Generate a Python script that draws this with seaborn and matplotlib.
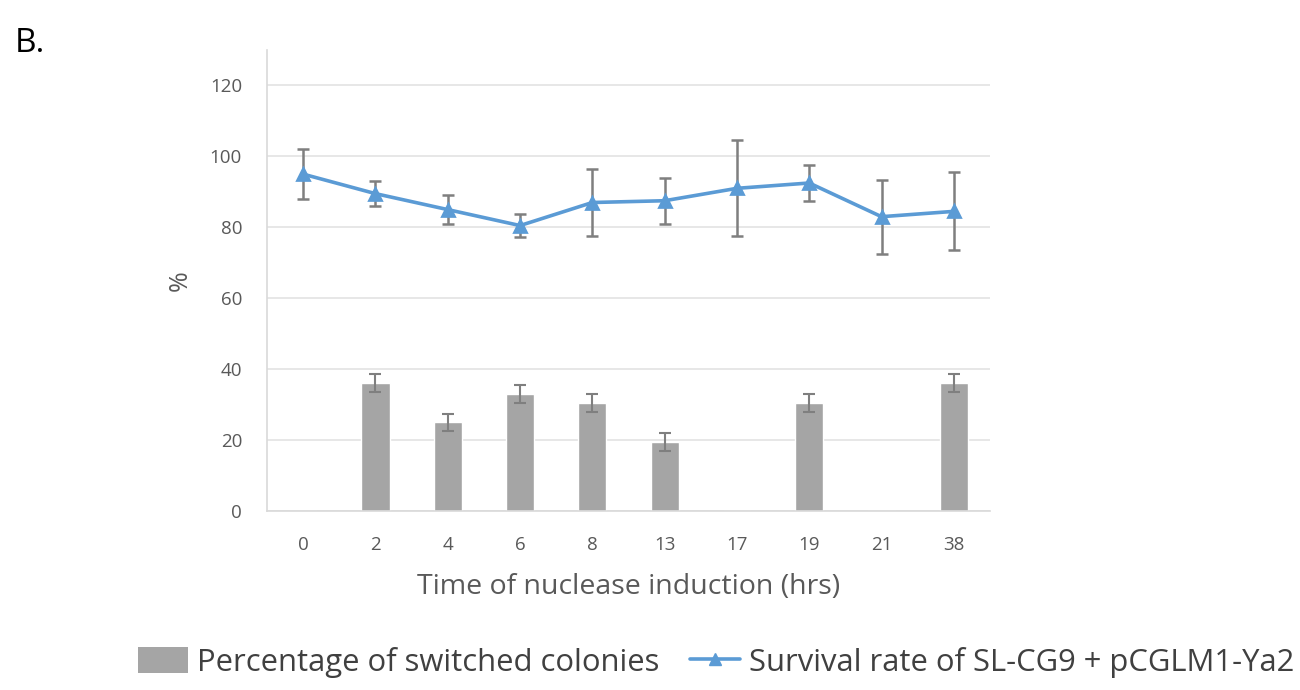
import numpy as np
import pandas as pd
import seaborn as sns
import matplotlib.pyplot as plt
from matplotlib.lines import Line2D
from matplotlib.patches import Patch

hours = ["0", "2", "4", "6", "8", "13", "17", "19", "21", "38"]
switched = [0, 36, 25, 33, 30.5, 19.5, 0, 30.5, 0, 36]
switched_err = [np.nan, 2.5, 2.3, 2.5, 2.5, 2.5, np.nan, 2.5, np.nan, 2.5]
survival = [95, 89.5, 85, 80.5, 87, 87.5, 91, 92.5, 83, 84.5]
survival_err = [7, 3.5, 4, 3.3, 9.5, 6.5, 13.5, 5, 10.4, 11]

bar_color = "#A5A5A5"
line_color = "#5B9BD5"
err_color = "#7F7F7F"
text_color = "#595959"

df = pd.DataFrame({"hours": hours, "switched": switched, "survival": survival})

sns.set_style("white")
plt.rcParams["font.family"] = ["Open Sans", "DejaVu Sans"]

fig = plt.figure(figsize=(13, 6.9), dpi=100)
ax = fig.add_axes([0.2054, 0.2594, 0.5561, 0.6681])

sns.barplot(data=df, x="hours", y="switched", color=bar_color, width=0.39,
            saturation=1, ax=ax, zorder=2)
ax.errorbar(np.arange(len(hours)), switched, yerr=switched_err, fmt="none",
            ecolor=err_color, elinewidth=1.5, capsize=4, capthick=1.5, zorder=3)

sns.pointplot(data=df, x="hours", y="survival", color=line_color, markers="^",
              errorbar=None, linewidth=2.6, markersize=9, ax=ax, zorder=4)
ax.errorbar(np.arange(len(hours)), survival, yerr=survival_err, fmt="none",
            ecolor=err_color, elinewidth=1.8, capsize=4, capthick=1.8, zorder=3)

ax.set_xlim(-0.5, 9.5)
ax.set_ylim(0, 130)
ax.set_yticks(range(0, 121, 20))
ax.yaxis.grid(True, color="#E3E3E3", linewidth=1.2, zorder=0)
ax.set_axisbelow(True)
for s in ["top", "right"]:
    ax.spines[s].set_visible(False)
ax.spines["left"].set_color("#D9D9D9")
ax.spines["bottom"].set_color("#D9D9D9")
ax.spines["left"].set_linewidth(1.2)
ax.spines["bottom"].set_linewidth(1.2)
ax.tick_params(axis="both", length=0, labelsize=13.5, labelcolor=text_color)
ax.tick_params(axis="x", pad=18)
ax.tick_params(axis="y", pad=18)

ax.set_xlabel("Time of nuclease induction (hrs)", fontsize=20.5, color=text_color, labelpad=14)
ax.set_ylabel("%", fontsize=18, color=text_color, labelpad=12)

fig.text(0.011, 0.925, "B.", fontsize=24, color="black")

handles = [
    Patch(facecolor=bar_color, edgecolor="none"),
    Line2D([], [], color=line_color, marker="^", linewidth=2.6, markersize=9),
]
labels = ["Percentage of switched colonies", "Survival rate of SL-CG9 + pCGLM1-Ya2"]
fig.legend(handles, labels, loc="center", bbox_to_anchor=(0.551, 0.04), ncol=2,
           frameon=False, fontsize=22.3, handlelength=1.6, handleheight=0.9,
           columnspacing=1.0, handletextpad=0.3, labelcolor="#404040")

fig.savefig("out.png", dpi=100)
